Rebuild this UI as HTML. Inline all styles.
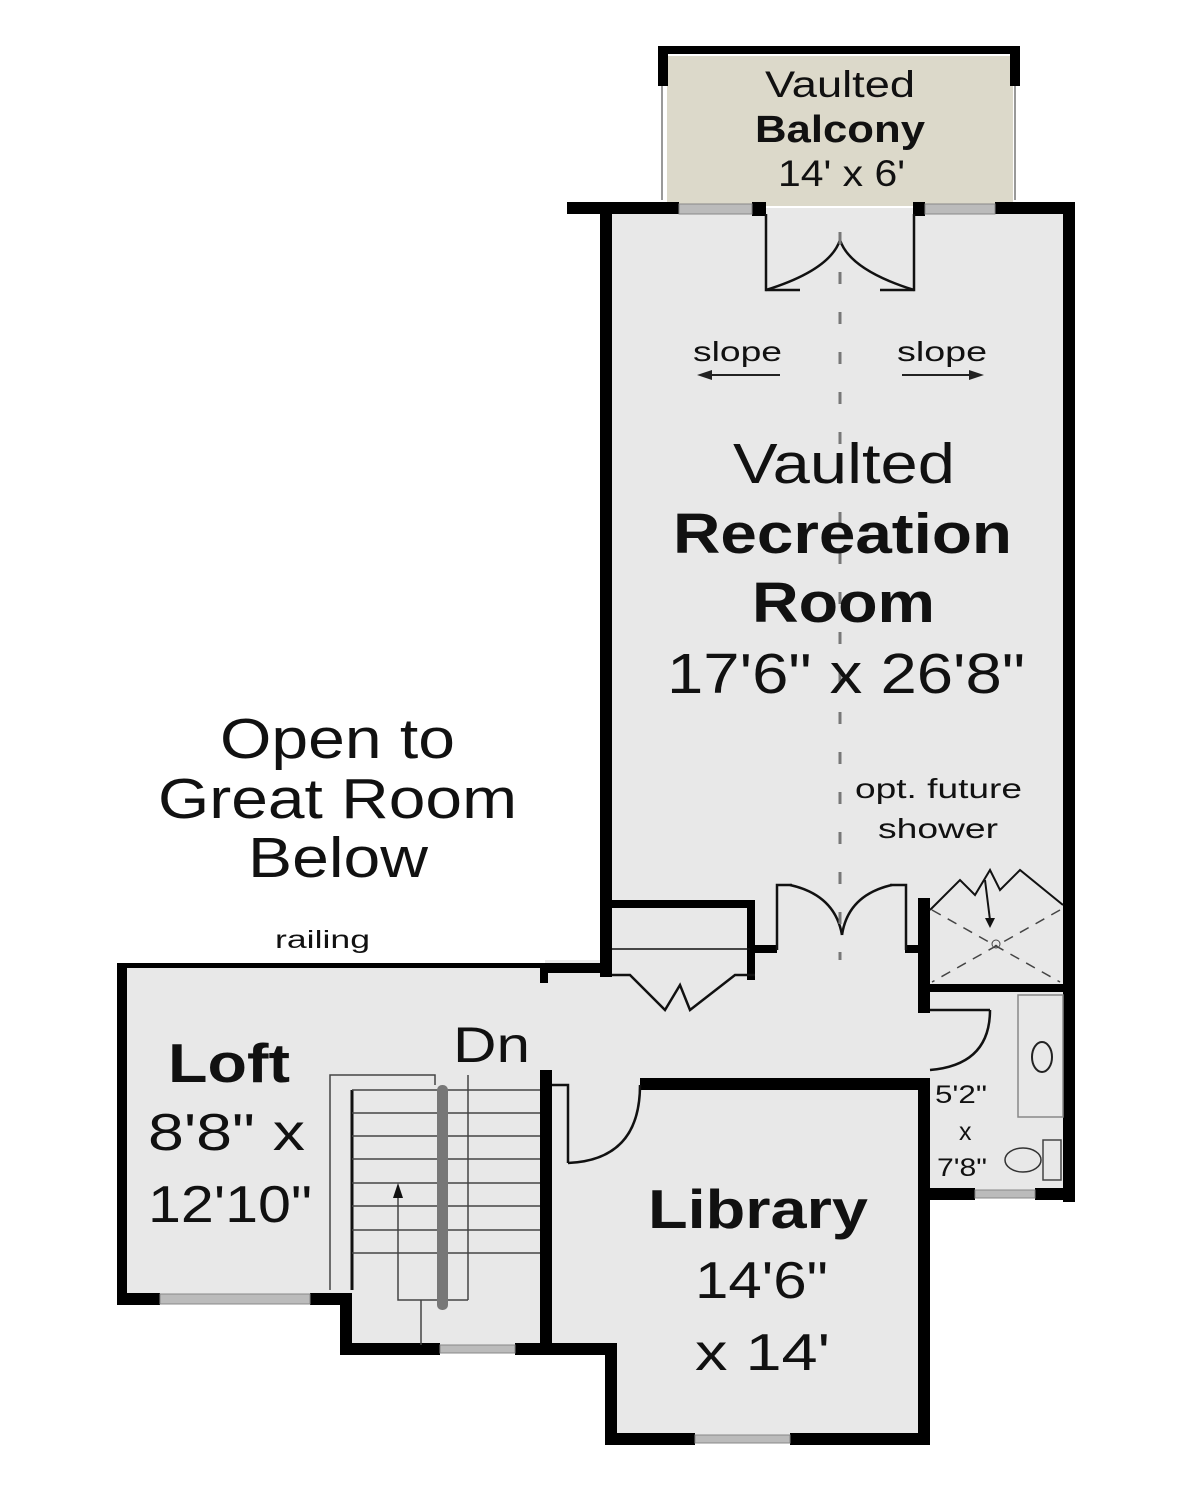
<!DOCTYPE html>
<html><head><meta charset="utf-8"><style>
html,body{margin:0;padding:0;background:#fff;}
svg{display:block;}
text{font-family:"Liberation Sans",sans-serif;fill:#111;}
</style></head><body>
<svg width="1200" height="1495" viewBox="0 0 1200 1495" xmlns="http://www.w3.org/2000/svg">
<g fill="#e8e8e8">
<rect x="667" y="56" width="346" height="150" fill="#dcd9ca"/>
<rect x="606" y="208" width="463" height="770"/>
<rect x="545" y="960" width="380" height="125"/>
<rect x="120" y="966" width="430" height="332"/>
<rect x="345" y="1060" width="200" height="290"/>
<rect x="545" y="1080" width="380" height="270"/>
<rect x="610" y="1080" width="315" height="360"/>
<rect x="920" y="900" width="150" height="295"/>
</g>
<g fill="#000">
<rect x="658" y="46" width="362" height="8"/>
<rect x="658" y="46" width="10" height="40"/>
<rect x="1010" y="46" width="10" height="40"/>
</g>
<line x1="662" y1="86" x2="662" y2="200" stroke="#999" stroke-width="2"/>
<line x1="1015" y1="86" x2="1015" y2="200" stroke="#999" stroke-width="2"/>
<g fill="#000">
<rect x="567" y="202" width="112" height="12"/>
<rect x="752" y="202" width="14" height="14"/>
<rect x="913" y="202" width="12" height="14"/>
<rect x="995" y="202" width="80" height="12"/>
<rect x="600" y="202" width="12" height="775"/>
<rect x="1063" y="202" width="12" height="1000"/>
<rect x="600" y="900" width="155" height="8"/>
<rect x="747" y="900" width="8" height="80"/>
<rect x="747" y="945" width="30" height="8"/>
<rect x="905" y="945" width="25" height="8"/>
<rect x="918" y="898" width="12" height="115"/>
<rect x="918" y="1080" width="12" height="365"/>
<rect x="925" y="984" width="145" height="8"/>
<rect x="918" y="1188" width="57" height="12"/>
<rect x="1035" y="1188" width="40" height="12"/>
<rect x="640" y="1078" width="290" height="12"/>
<rect x="605" y="1343" width="12" height="102"/>
<rect x="605" y="1433" width="90" height="12"/>
<rect x="790" y="1433" width="140" height="12"/>
<rect x="540" y="1070" width="12" height="285"/>
<rect x="340" y="1343" width="100" height="12"/>
<rect x="515" y="1343" width="102" height="12"/>
<rect x="340" y="1295" width="12" height="60"/>
<rect x="117" y="963" width="10" height="342"/>
<rect x="117" y="1293" width="43" height="12"/>
<rect x="310" y="1293" width="42" height="12"/>
<rect x="540" y="963" width="70" height="10"/>
<rect x="540" y="963" width="8" height="20"/>
</g>
<rect x="117" y="963" width="430" height="5" fill="#000"/>
<g fill="#bbb" stroke="#888" stroke-width="1">
<rect x="679" y="204" width="73" height="10"/>
<rect x="925" y="204" width="70" height="10"/>
<rect x="160" y="1294" width="150" height="10"/>
<rect x="440" y="1345" width="75" height="8"/>
<rect x="695" y="1435" width="95" height="8"/>
<rect x="975" y="1190" width="60" height="8"/>
</g>
<g fill="none" stroke="#111" stroke-width="2.5">
<polyline points="766,214 766,290 800,290"/>
<polyline points="914,214 914,290 880,290"/>
<path d="M766,290 Q830,270 840,240"/>
<path d="M914,290 Q850,270 840,240"/>
<polyline points="777,950 777,885 792,885"/>
<polyline points="906,950 906,885 890,885"/>
<path d="M790,885 Q835,895 842,935"/>
<path d="M892,885 Q848,895 842,935"/>
<polyline points="612,975 630,975 665,1010 680,985 690,1010 735,975 755,975"/>
<line x1="612" y1="949" x2="750" y2="949" stroke-width="1.5"/>
<polyline points="552,1085 568,1085 568,1163"/>
<path d="M568,1163 Q640,1160 640,1085"/>
<polyline points="930,1010 990,1010"/>
<path d="M990,1010 Q990,1065 930,1070"/>
<polyline points="930,910 960,880 975,895 990,870 1000,890 1020,870 1063,905" stroke-width="2"/>
<line x1="985" y1="880" x2="990" y2="920" stroke-width="2"/>
</g>
<polygon points="985,918 995,918 990,928" fill="#111"/>
<g stroke="#444" stroke-width="1.5" stroke-dasharray="10,8" fill="none">
<line x1="932" y1="910" x2="1060" y2="982"/>
<line x1="1060" y1="910" x2="932" y2="982"/>
</g>
<circle cx="996" cy="944" r="4" fill="none" stroke="#444"/>
<line x1="840" y1="232" x2="840" y2="960" stroke="#777" stroke-width="3" stroke-dasharray="12,28"/>
<rect x="1018" y="995" width="45" height="122" fill="none" stroke="#888" stroke-width="1.5"/>
<ellipse cx="1042" cy="1057" rx="10" ry="15" fill="none" stroke="#222" stroke-width="2"/>
<ellipse cx="1023" cy="1160" rx="18" ry="12" fill="none" stroke="#333" stroke-width="1.5"/>
<rect x="1043" y="1140" width="18" height="40" fill="none" stroke="#444" stroke-width="1.5"/>
<g stroke="#222" stroke-width="2">
<line x1="700" y1="375" x2="780" y2="375"/>
<line x1="902" y1="375" x2="980" y2="375"/>
</g>
<polygon points="697,375 712,370 712,380" fill="#222"/>
<polygon points="984,375 969,370 969,380" fill="#222"/>
<g stroke="#444" stroke-width="1.5" fill="none">
<polyline points="330,1290 330,1075 435,1075 435,1085"/>
<line x1="352" y1="1090" x2="352" y2="1290" stroke="#111" stroke-width="3"/>
<line x1="352" y1="1090" x2="540" y2="1090"/>
<line x1="352" y1="1113" x2="540" y2="1113"/>
<line x1="352" y1="1136" x2="540" y2="1136"/>
<line x1="352" y1="1159" x2="540" y2="1159"/>
<line x1="352" y1="1183" x2="540" y2="1183"/>
<line x1="352" y1="1206" x2="540" y2="1206"/>
<line x1="352" y1="1230" x2="540" y2="1230"/>
<line x1="352" y1="1253" x2="540" y2="1253"/>
<line x1="468" y1="1075" x2="468" y2="1300"/>
<polyline points="398,1190 398,1300 468,1300"/>
<line x1="421" y1="1300" x2="421" y2="1345"/>
</g>
<rect x="437" y="1085" width="11" height="225" rx="5" fill="#777"/>
<polygon points="393,1198 403,1198 398,1183" fill="#111"/>
<g lengthAdjust="spacingAndGlyphs">
<text x="765" y="97" font-size="37" textLength="150" lengthAdjust="spacingAndGlyphs">Vaulted</text>
<text x="755" y="142" font-size="38" font-weight="bold" textLength="170" lengthAdjust="spacingAndGlyphs">Balcony</text>
<text x="778" y="186" font-size="37" textLength="127" lengthAdjust="spacingAndGlyphs">14' x 6'</text>
<text x="693" y="361" font-size="28" fill="#333" textLength="89" lengthAdjust="spacingAndGlyphs">slope</text>
<text x="897" y="361" font-size="28" fill="#333" textLength="90" lengthAdjust="spacingAndGlyphs">slope</text>
<text x="733" y="483" font-size="57" textLength="222" lengthAdjust="spacingAndGlyphs">Vaulted</text>
<text x="673" y="553" font-size="57" font-weight="bold" textLength="339" lengthAdjust="spacingAndGlyphs">Recreation</text>
<text x="752" y="622" font-size="57" font-weight="bold" textLength="183" lengthAdjust="spacingAndGlyphs">Room</text>
<text x="667" y="693" font-size="57" textLength="358" lengthAdjust="spacingAndGlyphs">17'6" x 26'8"</text>
<text x="855" y="798" font-size="28" fill="#333" textLength="167" lengthAdjust="spacingAndGlyphs">opt. future</text>
<text x="878" y="838" font-size="28" fill="#333" textLength="120" lengthAdjust="spacingAndGlyphs">shower</text>
<text x="220" y="758" font-size="57" textLength="235" lengthAdjust="spacingAndGlyphs">Open to</text>
<text x="158" y="818" font-size="57" textLength="359" lengthAdjust="spacingAndGlyphs">Great Room</text>
<text x="248" y="877" font-size="57" textLength="180" lengthAdjust="spacingAndGlyphs">Below</text>
<text x="275" y="948" font-size="25" fill="#333" textLength="95" lengthAdjust="spacingAndGlyphs">railing</text>
<text x="453" y="1062" font-size="50" textLength="77" lengthAdjust="spacingAndGlyphs">Dn</text>
<text x="168" y="1082" font-size="55" font-weight="bold" textLength="122" lengthAdjust="spacingAndGlyphs">Loft</text>
<text x="148" y="1150" font-size="52" textLength="157" lengthAdjust="spacingAndGlyphs">8'8" x</text>
<text x="148" y="1222" font-size="52" textLength="164" lengthAdjust="spacingAndGlyphs">12'10"</text>
<text x="648" y="1228" font-size="55" font-weight="bold" textLength="220" lengthAdjust="spacingAndGlyphs">Library</text>
<text x="695" y="1298" font-size="52" textLength="133" lengthAdjust="spacingAndGlyphs">14'6"</text>
<text x="695" y="1370" font-size="52" textLength="135" lengthAdjust="spacingAndGlyphs">x 14'</text>
<text x="935" y="1103" font-size="25" textLength="52" lengthAdjust="spacingAndGlyphs">5'2"</text>
<text x="959" y="1140" font-size="25">x</text>
<text x="937" y="1176" font-size="25" textLength="50" lengthAdjust="spacingAndGlyphs">7'8"</text>
</g>
</svg>
</body></html>
